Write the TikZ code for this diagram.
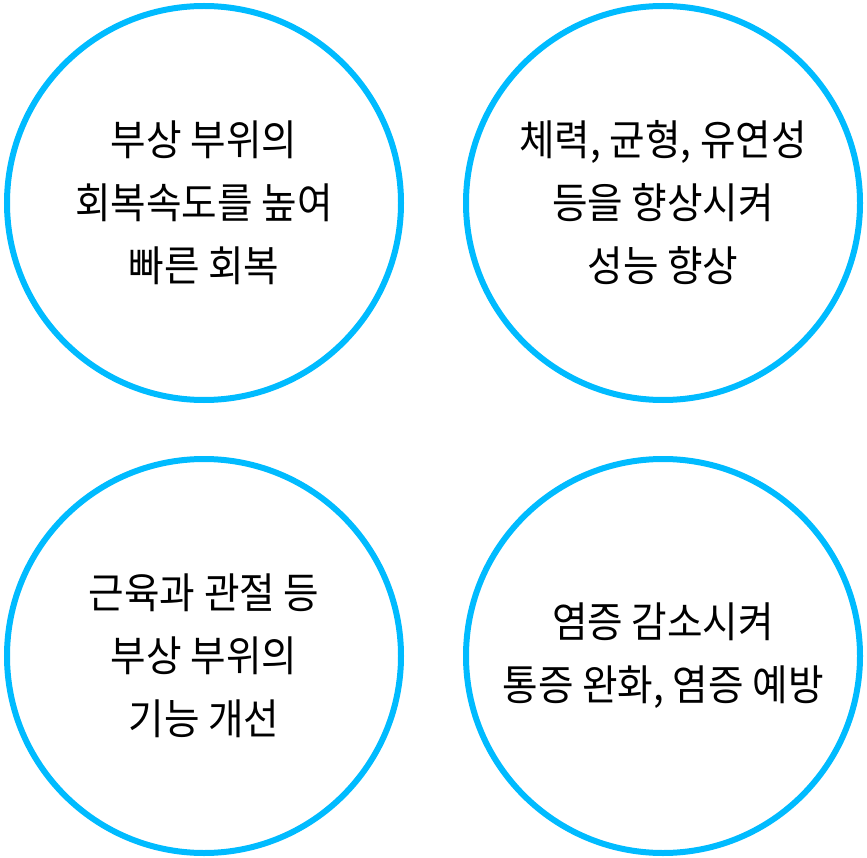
\documentclass[tikz,border=0pt]{standalone}
\usepackage{fontspec}
\setmainfont{Noto Sans CJK KR}[FakeStretch=0.92]
\definecolor{ringblue}{HTML}{00BBFF}
\begin{document}
\begin{tikzpicture}[x=1pt,y=-1pt,
  ring/.style={circle,draw=ringblue,line width=6pt,minimum size=394pt,inner sep=0pt,
    align=center,font=\fontsize{42}{63}\selectfont}]
\useasboundingbox (0,0) rectangle (867,858);
\node[ring] (a) at (204,203) {부상 부위의\\회복속도를 높여\\빠른 회복};
\node[ring] (b) at (663,203) {체력, 균형, 유연성\\등을 향상시켜\\성능 향상};
\node[ring] (c) at (204,656) {근육과 관절 등\\부상 부위의\\기능 개선};
\node[ring] (d) at (663,656) {염증 감소시켜\\통증 완화, 염증 예방};
\end{tikzpicture}
\end{document}
